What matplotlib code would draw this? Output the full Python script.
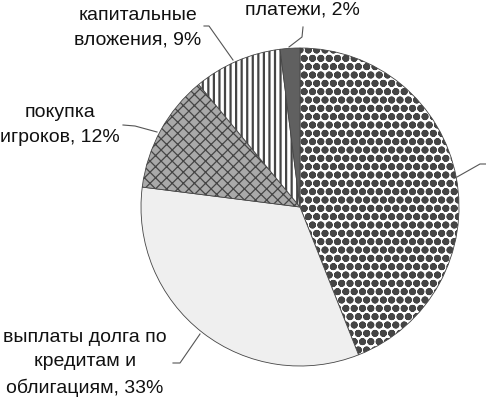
import matplotlib
matplotlib.use("Agg")
from matplotlib import pyplot as plt

plt.rcParams['font.family'] = ['Liberation Sans', 'DejaVu Sans']
plt.rcParams['hatch.linewidth'] = 1.6

# shares of spending, clockwise from 12 o'clock
labels = ['', 'выплаты долга по\nкредитам и\nоблигациям, 33%', 'покупка\nигроков, 12%',
          'капитальные\nвложения, 9%', 'платежи, 2%']
shares = [44, 33, 12, 9, 2]
colors = ['white', '#efefef', '#a9a9a9', 'white', '#606060']
hatches = ['oo', '', 'xxx', '|||', '']
hatch_lw = [2.6, 1.0, 0.9, 1.6, 1.0]

W, H = 486, 399

fig = plt.figure(figsize=(W / 100, H / 100), dpi=100)
ax = fig.add_axes([0, 0, 1, 1])

wedges, _ = ax.pie(shares, colors=colors, startangle=90, counterclock=False,
                   center=(300, H - 207), radius=159, frame=True,
                   wedgeprops=dict(edgecolor='#454545', linewidth=0.6))
for w, h, lw in zip(wedges, hatches, hatch_lw):
    w.set_hatch(h)
    if hasattr(w, 'set_hatch_linewidth'):
        w.set_hatch_linewidth(lw)
ax.set_xlim(0, W)
ax.set_ylim(0, H)
ax.set_aspect('equal')
ax.axis('off')

# label positions in pixels (x, y from top) and leader lines
label_pos = [None, (85, 363), (60, 125), (138, 28), (302, 10)]
leaders = [
    [(457, 177), (480, 164), (486, 164)],
    [(173, 363), (180, 363), (200, 334)],
    [(123, 125), (135, 126), (157, 132)],
    [(204, 26), (209, 26), (233, 60)],
    [(303, 27), (302, 37), (289, 47)],
]

for lab, pos in zip(labels, label_pos):
    if pos is None:
        continue
    ax.text(pos[0], H - pos[1], lab, ha='center', va='center',
            fontsize=14, linespacing=1.55, color='#111111')

for pts in leaders:
    xs = [p[0] for p in pts]
    ys = [H - p[1] for p in pts]
    ax.plot(xs, ys, color='#555555', linewidth=0.8)

fig.savefig('out.png', dpi=100)
